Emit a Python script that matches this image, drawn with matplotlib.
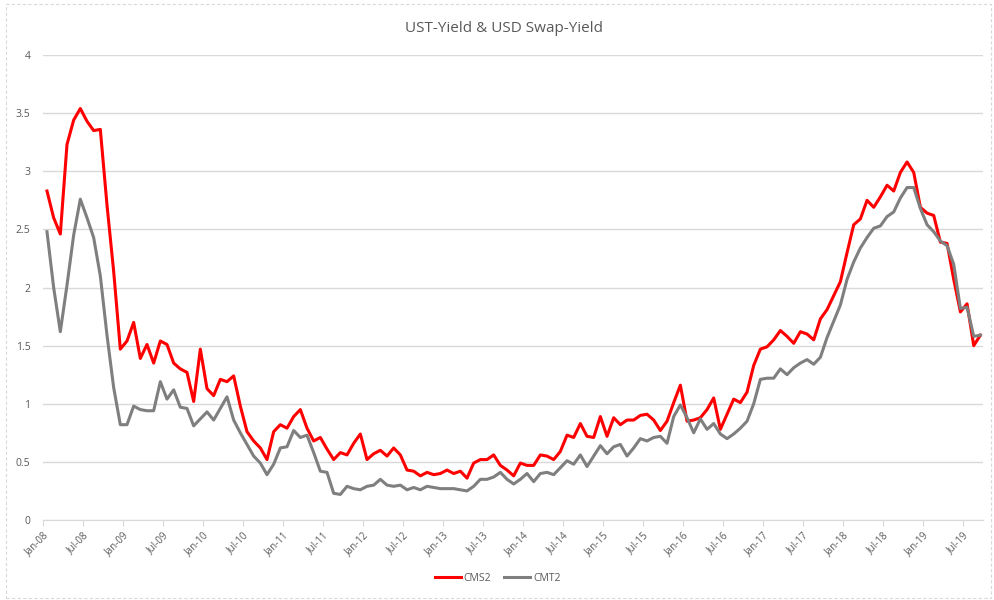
import matplotlib
matplotlib.use('Agg')
import matplotlib.pyplot as plt
import numpy as np
from matplotlib.patches import Rectangle

# monthly yields, Jan-08 .. Sep-19
cms2 = [2.83, 2.60, 2.46, 3.23, 3.44, 3.54, 3.43, 3.35, 3.36, 2.71, 2.14, 1.47,
        1.54, 1.70, 1.39, 1.51, 1.35, 1.54, 1.51, 1.35, 1.30, 1.27, 1.02, 1.47,
        1.13, 1.07, 1.21, 1.19, 1.24, 0.98, 0.76, 0.68, 0.62, 0.52, 0.76, 0.82,
        0.79, 0.89, 0.95, 0.79, 0.68, 0.71, 0.61, 0.52, 0.58, 0.56, 0.66, 0.74,
        0.52, 0.57, 0.60, 0.55, 0.62, 0.56, 0.43, 0.42, 0.38, 0.41, 0.39, 0.40,
        0.43, 0.40, 0.42, 0.36, 0.49, 0.52, 0.52, 0.56, 0.47, 0.43, 0.38, 0.49,
        0.47, 0.47, 0.56, 0.55, 0.52, 0.59, 0.73, 0.71, 0.83, 0.72, 0.71, 0.89,
        0.72, 0.88, 0.82, 0.86, 0.86, 0.90, 0.91, 0.86, 0.77, 0.85, 1.01, 1.16,
        0.85, 0.86, 0.88, 0.95, 1.05, 0.78, 0.91, 1.04, 1.01, 1.10, 1.33, 1.47,
        1.49, 1.55, 1.63, 1.58, 1.52, 1.62, 1.60, 1.55, 1.73, 1.81, 1.93, 2.05,
        2.30, 2.54, 2.59, 2.75, 2.69, 2.78, 2.88, 2.83, 2.99, 3.08, 2.99, 2.69,
        2.64, 2.62, 2.39, 2.38, 2.07, 1.79, 1.86, 1.50, 1.59]

cmt2 = [2.48, 2.00, 1.62, 2.02, 2.45, 2.76, 2.60, 2.43, 2.10, 1.59, 1.14, 0.82,
        0.82, 0.98, 0.95, 0.94, 0.94, 1.19, 1.04, 1.12, 0.97, 0.96, 0.81, 0.87,
        0.93, 0.86, 0.96, 1.06, 0.86, 0.75, 0.65, 0.55, 0.49, 0.39, 0.48, 0.62,
        0.63, 0.77, 0.71, 0.73, 0.58, 0.42, 0.41, 0.23, 0.22, 0.29, 0.27, 0.26,
        0.29, 0.30, 0.35, 0.30, 0.29, 0.30, 0.26, 0.28, 0.26, 0.29, 0.28, 0.27,
        0.27, 0.27, 0.26, 0.25, 0.29, 0.35, 0.35, 0.37, 0.41, 0.35, 0.31, 0.35,
        0.40, 0.33, 0.40, 0.41, 0.39, 0.45, 0.51, 0.48, 0.56, 0.46, 0.55, 0.64,
        0.57, 0.63, 0.65, 0.55, 0.62, 0.70, 0.68, 0.71, 0.72, 0.66, 0.89, 0.99,
        0.88, 0.75, 0.87, 0.78, 0.83, 0.74, 0.70, 0.74, 0.79, 0.85, 1.00, 1.21,
        1.22, 1.22, 1.30, 1.25, 1.31, 1.35, 1.38, 1.34, 1.40, 1.57, 1.71, 1.85,
        2.07, 2.22, 2.34, 2.43, 2.51, 2.53, 2.61, 2.65, 2.77, 2.86, 2.86, 2.68,
        2.54, 2.48, 2.40, 2.36, 2.20, 1.82, 1.83, 1.58, 1.59]

tick_labels = ['Jan-08', 'Jul-08', 'Jan-09', 'Jul-09', 'Jan-10', 'Jul-10',
               'Jan-11', 'Jul-11', 'Jan-12', 'Jul-12', 'Jan-13', 'Jul-13',
               'Jan-14', 'Jul-14', 'Jan-15', 'Jul-15', 'Jan-16', 'Jul-16',
               'Jan-17', 'Jul-17', 'Jan-18', 'Jul-18', 'Jan-19', 'Jul-19']
y_ticks = [0, 0.5, 1, 1.5, 2, 2.5, 3, 3.5, 4]

plt.rcParams['font.family'] = ['Open Sans', 'DejaVu Sans']
txt = '#595959'
grid = '#d9d9d9'

fig = plt.figure(figsize=(9.95, 6), dpi=100)
ax = fig.add_axes([0.0432, 0.1333, 0.9448, 0.775])

x = np.arange(len(cms2))
ax.plot(x, cms2, color='#ff0000', lw=2.2, label='CMS2')
ax.plot(x, cmt2, color='#7f7f7f', lw=2.2, label='CMT2')

ax.set_xlim(-0.6, 140.4)
ax.set_ylim(0, 4)
ax.set_yticks(y_ticks)
ax.set_yticklabels([f'{v:g}' for v in y_ticks])
ax.set_xticks(np.arange(len(tick_labels)) * 6 - 0.6)
ax.set_xticklabels(tick_labels, rotation=45, ha='right', rotation_mode='anchor')

ax.yaxis.grid(True, color=grid, lw=1)
ax.set_axisbelow(True)
for s in ['top', 'right', 'left']:
    ax.spines[s].set_visible(False)
ax.spines['bottom'].set_color(grid)
ax.tick_params(axis='y', length=0, pad=9, labelsize=7.5, labelcolor=txt)
ax.tick_params(axis='x', length=4, color=grid, pad=3, labelsize=7, labelcolor=txt)

fig.text(0.5065, 0.953, 'UST-Yield & USD Swap-Yield', ha='center', va='center',
         fontsize=11, color=txt)

ax.legend(loc='center', bbox_to_anchor=(0.5, 0.036), bbox_transform=fig.transFigure,
          ncol=2, frameon=False, fontsize=7.5, labelcolor=txt, handlelength=2.5,
          handletextpad=0.3, columnspacing=1.2)

fig.patches.append(Rectangle((0.006, 0.004), 0.99, 0.99, transform=fig.transFigure,
                             fill=False, ec=grid, lw=0.8, ls=(0, (3, 2))))

fig.savefig('out.png', dpi=100)
